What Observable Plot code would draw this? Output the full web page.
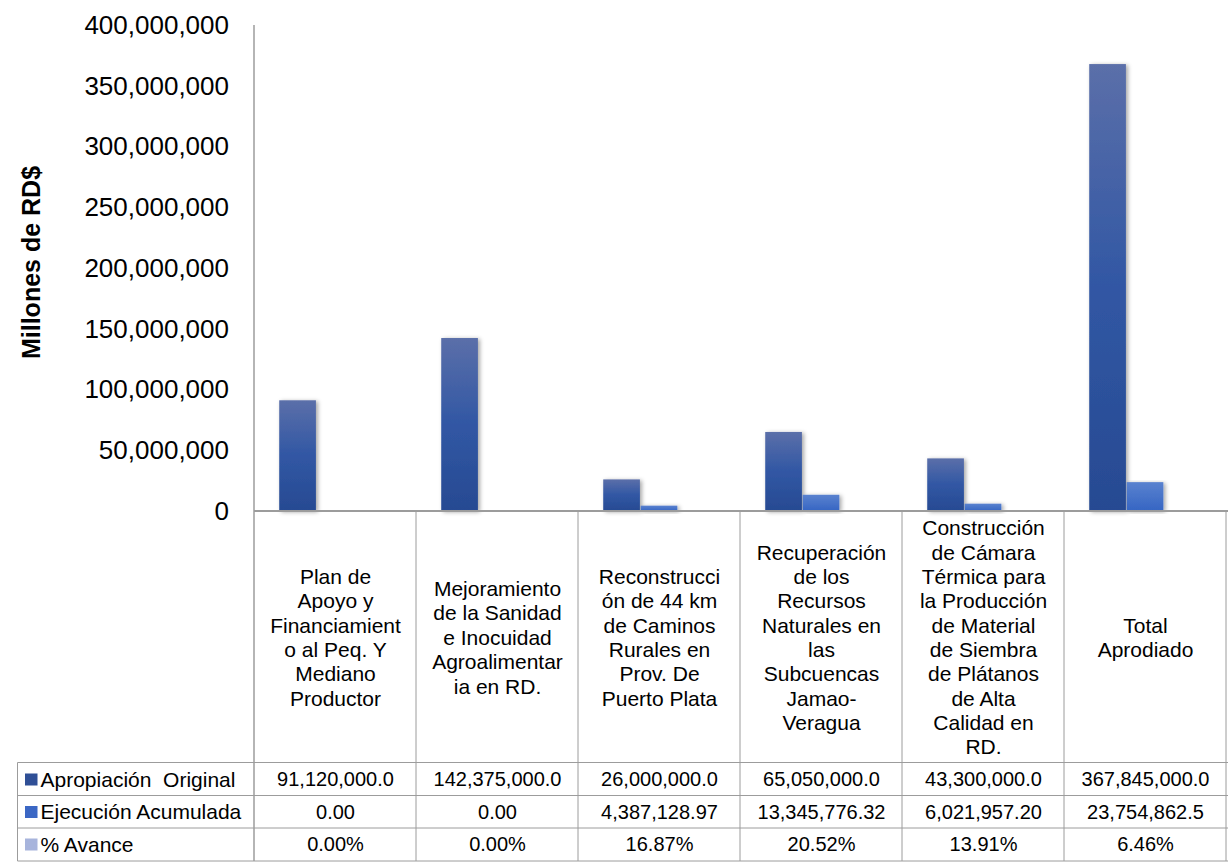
<!DOCTYPE html>
<html><head><meta charset="utf-8">
<script src="https://cdn.jsdelivr.net/npm/d3@7"></script>
<script src="https://cdn.jsdelivr.net/npm/@observablehq/plot@0.6"></script>
<style>body{margin:0;background:#fff} svg{display:block}</style>
</head><body><div id="chart"></div>
<script>
// ---- data ----
const categories = [
  "Plan de\nApoyo y\nFinanciamient\no al Peq. Y\nMediano\nProductor",
  "Mejoramiento\nde la Sanidad\ne Inocuidad\nAgroalimentar\nia en RD.",
  "Reconstrucci\nón de 44 km\nde Caminos\nRurales en\nProv. De\nPuerto Plata",
  "Recuperación\nde los\nRecursos\nNaturales en\nlas\nSubcuencas\nJamao-\nVeragua",
  "Construcción\nde Cámara\nTérmica para\nla Producción\nde Material\nde Siembra\nde Plátanos\nde Alta\nCalidad en\nRD.",
  "Total\nAprodiado"
];
const seriesNames = ["Apropiación\u00a0 Original", "Ejecución Acumulada", "% Avance"];
const apropiacion = [91120000, 142375000, 26000000, 65050000, 43300000, 367845000];
const ejecucion = [0, 0, 4387128.97, 13345776.32, 6021957.20, 23754862.5];
const avance = [0, 0, 0.1687, 0.2052, 0.1391, 0.0646];
const apropiacionLabels = ["91,120,000.0", "142,375,000.0", "26,000,000.0", "65,050,000.0", "43,300,000.0", "367,845,000.0"];
const ejecucionLabels = ["0.00", "0.00", "4,387,128.97", "13,345,776.32", "6,021,957.20", "23,754,862.5"];
const avanceLabels = ["0.00%", "0.00%", "16.87%", "20.52%", "13.91%", "6.46%"];
const yTicks = [0, 50000000, 100000000, 150000000, 200000000, 250000000, 300000000, 350000000, 400000000];
const yTitle = "Millones de RD$";

// ---- layout ----
const W = 1228, H = 866;
const mL = 251.5, mT = 25, mB = 355;
const bw = (W - mL) / categories.length;
const barW = bw * 0.23;
const off = (bw - 3 * barW) / 2;
const inset = k => ({insetLeft: off + k * barW, insetRight: bw - off - (k + 1) * barW});
const rowDy = [268.5, 301, 333.5];
const keyColors = ["#2f4f96", "#3b67c4", "#a7b4dc"];
const gridColor = "#9c9c9c";

const data = categories.map((c, i) => ({cat: c, a: apropiacion[i], e: ejecucion[i], p: avance[i]}));
const rowLabels = [apropiacionLabels, ejecucionLabels, avanceLabels];

const rowMarks = [];
rowLabels.forEach((labels, r) => {
  rowMarks.push(Plot.text(categories, {x: d => d, text: (d, i) => labels[i], frameAnchor: "bottom", dy: rowDy[r], lineAnchor: "middle", fontSize: 20}));
  rowMarks.push(Plot.text([seriesNames[r]], {frameAnchor: "bottom-left", dx: 40 - mL, dy: rowDy[r], textAnchor: "start", lineAnchor: "middle", fontSize: 21}));
});

const chart = Plot.plot({
  width: W, height: H,
  marginLeft: mL, marginRight: 0, marginTop: mT, marginBottom: mB,
  style: {fontFamily: "'Liberation Sans', Arial, sans-serif", fontSize: "26px", color: "#000", background: "#fff", overflow: "visible"},
  x: {domain: categories, padding: 0, axis: null},
  y: {domain: [0, 400000000], ticks: yTicks, tickSize: 0, tickPadding: 23, tickFormat: d3.format(","), label: null},
  marks: [
    Plot.barY(data, {x: "cat", y: "a", fill: "url(#gA)", ...inset(0)}),
    Plot.barY(data, {x: "cat", y: "e", fill: "url(#gE)", ...inset(1)}),
    Plot.barY(data, {x: "cat", y: "p", fill: keyColors[2], ...inset(2)}),
    Plot.text([yTitle], {frameAnchor: "left", dx: 31 - mL, dy: -6, rotate: -90, textAnchor: "middle", fontWeight: "bold", fontSize: 25}),
    Plot.text(categories, {x: d => d, text: d => d, frameAnchor: "bottom", dy: 125.5, lineAnchor: "middle", lineHeight: 1.16, fontSize: 21}),
    ...rowMarks
  ]
});

// gradients / shadow
const svg = d3.select(chart);
const defs = svg.insert("defs", ":first-child");
const gA = defs.append("linearGradient").attr("id", "gA").attr("x1", 0).attr("y1", 0).attr("x2", 0).attr("y2", 1);
gA.append("stop").attr("offset", "0%").attr("stop-color", "#5b6fa9");
gA.append("stop").attr("offset", "50%").attr("stop-color", "#3157a4");
gA.append("stop").attr("offset", "100%").attr("stop-color", "#274a92");
const gE = defs.append("linearGradient").attr("id", "gE").attr("x1", 0).attr("y1", 0).attr("x2", 0).attr("y2", 1);
gE.append("stop").attr("offset", "0%").attr("stop-color", "#5a82cf");
gE.append("stop").attr("offset", "100%").attr("stop-color", "#3565c3");
const f = defs.append("filter").attr("id", "sh").attr("x", "-20%").attr("y", "-5%").attr("width", "150%").attr("height", "115%");
f.append("feDropShadow").attr("dx", 2).attr("dy", 1).attr("stdDeviation", 2).attr("flood-color", "#000").attr("flood-opacity", 0.35);
svg.selectAll("g[aria-label=bar]").filter((d, i) => i < 2).attr("filter", "url(#sh)");

// table grid, from the plot's scales
const xs = chart.scale("x"), ys = chart.scale("y");
const yTop = ys.apply(400000000), yZero = ys.apply(0);
const edges = categories.map(c => xs.apply(c)).concat([xs.apply(categories[categories.length - 1]) + xs.bandwidth]);
const rowTops = [762.5, 795.5, 828, 861];
const g = svg.append("g").attr("stroke", gridColor).attr("fill", "none");
edges.forEach((x, i) => {
  const xx = Math.min(x, W - 0.5);
  g.append("line").attr("x1", xx).attr("x2", xx).attr("y1", i === 0 ? yTop : yZero).attr("y2", rowTops[3]).attr("stroke-width", i === 0 ? 1.5 : 1);
});
g.append("line").attr("x1", 17.5).attr("x2", 17.5).attr("y1", rowTops[0]).attr("y2", rowTops[3]);
rowTops.forEach(y => g.append("line").attr("x1", 17.5).attr("x2", W).attr("y1", y).attr("y2", y));
g.append("line").attr("x1", edges[0]).attr("x2", W).attr("y1", yZero).attr("y2", yZero).attr("stroke-width", 2);
// legend keys in row labels
const k = svg.append("g");
rowDy.forEach((dy, r) => {
  k.append("rect").attr("x", 25).attr("y", yZero + dy - 6).attr("width", 12.5).attr("height", 12).attr("fill", keyColors[r]);
});

document.getElementById("chart").appendChild(chart);
</script>
</body></html>
